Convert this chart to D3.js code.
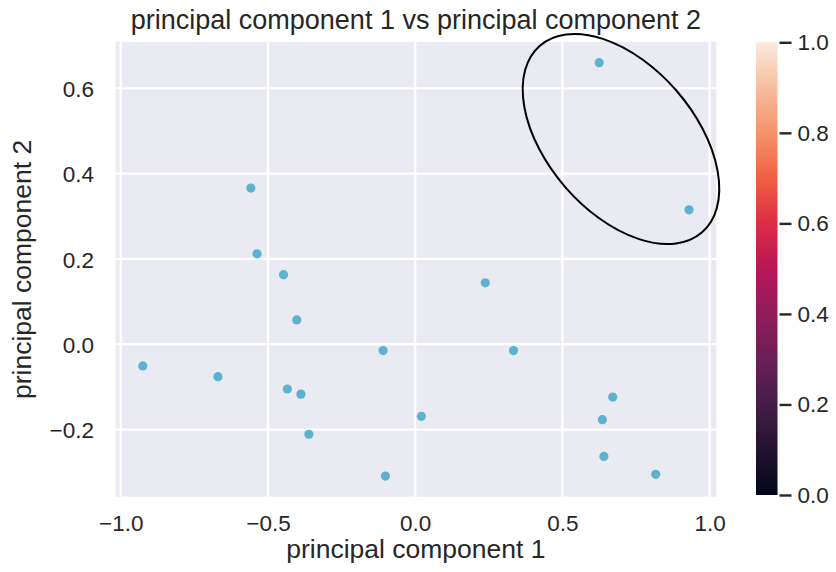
<!DOCTYPE html>
<html>
<head>
<meta charset="utf-8">
<script src="https://cdn.jsdelivr.net/npm/d3@7"></script>
<style>
  html, body { margin: 0; padding: 0; background: #ffffff; }
  svg { display: block; font-family: "Liberation Sans", Arial, sans-serif; }
</style>
</head>
<body>
<svg id="chart" width="836" height="572"></svg>
<script>
// ---- data ----
const pc1 = [0.625, 0.930, -0.558, -0.537, -0.447, -0.402, 0.238, -0.109, 0.334, -0.925,
             -0.670, -0.434, -0.388, -0.361, 0.021, -0.101, 0.671, 0.636, 0.641, 0.817];
const pc2 = [0.660, 0.315, 0.366, 0.212, 0.163, 0.057, 0.144, -0.015, -0.015, -0.051,
             -0.076, -0.105, -0.117, -0.211, -0.169, -0.309, -0.124, -0.177, -0.263, -0.305];
const xTicks = [-1.0, -0.5, 0.0, 0.5, 1.0];
const yTicks = [-0.2, 0.0, 0.2, 0.4, 0.6];
const cbTicks = [0.0, 0.2, 0.4, 0.6, 0.8, 1.0];
// "rocket" colormap stops
const rocketStops = ["#03051a", "#221331", "#451c47", "#6a1f56", "#921c5b", "#b91657",
                     "#dd2c45", "#f06043", "#f5936a", "#f6bd9e", "#faebdd"];
const titleText = "principal component 1 vs principal component 2";
const xLabel = "principal component 1";
const yLabel = "principal component 2";
// annotation ellipse (centre in data units)
const ellipseCenter = [0.699, 0.481];

// ---- layout ----
const svg = d3.select("#chart");
const plot = { left: 115.5, right: 716.3, top: 42, bottom: 496.7 };
const textColor = "#262626";
const tickFont = 22.5, labelFont = 26.5, titleFont = 27;

const pad = 0.05;
const xExt = d3.extent(pc1), yExt = d3.extent(pc2);
const xs = d3.scaleLinear()
  .domain([xExt[0] - pad * (xExt[1] - xExt[0]), xExt[1] + pad * (xExt[1] - xExt[0])])
  .range([plot.left, plot.right]);
const ys = d3.scaleLinear()
  .domain([yExt[0] - pad * (yExt[1] - yExt[0]), yExt[1] + pad * (yExt[1] - yExt[0])])
  .range([plot.bottom, plot.top]);

// background
svg.append("rect")
  .attr("x", plot.left).attr("y", plot.top)
  .attr("width", plot.right - plot.left).attr("height", plot.bottom - plot.top)
  .attr("fill", "#eaeaf2");

// grid
const grid = svg.append("g");
grid.selectAll("line.vx").data(xTicks).join("line")
  .attr("x1", d => xs(d)).attr("x2", d => xs(d))
  .attr("y1", plot.top).attr("y2", plot.bottom)
  .attr("stroke", "#ffffff").attr("stroke-width", 2.2);
grid.selectAll("line.hy").data(yTicks).join("line")
  .attr("y1", d => ys(d)).attr("y2", d => ys(d))
  .attr("x1", plot.left).attr("x2", plot.right)
  .attr("stroke", "#ffffff").attr("stroke-width", 2.2);

// axes (no tick marks, seaborn darkgrid style)
const fmt = d3.format(".1f");
const xAxis = svg.append("g")
  .attr("transform", `translate(0,${plot.bottom})`)
  .call(d3.axisBottom(xs).tickValues(xTicks).tickFormat(fmt).tickSize(0).tickPadding(0));
xAxis.select(".domain").remove();
xAxis.selectAll("text")
  .attr("y", 34).attr("dy", 0)
  .attr("fill", textColor).style("font-size", tickFont + "px")
  .style("font-family", "'Liberation Sans', Arial, sans-serif");

const yAxis = svg.append("g")
  .attr("transform", `translate(${plot.left},0)`)
  .call(d3.axisLeft(ys).tickValues(yTicks).tickFormat(fmt).tickSize(0).tickPadding(0));
yAxis.select(".domain").remove();
yAxis.selectAll("text")
  .attr("x", -21.5).attr("dy", "0.36em")
  .attr("fill", textColor).style("font-size", tickFont + "px")
  .style("font-family", "'Liberation Sans', Arial, sans-serif");

// points
svg.append("g").selectAll("circle")
  .data(pc1.map((v, i) => [v, pc2[i]]))
  .join("circle")
  .attr("cx", d => xs(d[0])).attr("cy", d => ys(d[1]))
  .attr("r", 4.6)
  .attr("fill", "#5cb2cf");

// annotation ellipse
svg.append("ellipse")
  .attr("transform", `translate(${xs(ellipseCenter[0])},${ys(ellipseCenter[1])}) rotate(49)`)
  .attr("rx", 123.6).attr("ry", 73.6)
  .attr("fill", "none").attr("stroke", "#000000").attr("stroke-width", 2);

// title and labels
svg.append("text")
  .attr("x", (plot.left + plot.right) / 2).attr("y", 28.5)
  .attr("text-anchor", "middle").attr("fill", textColor)
  .style("font-size", titleFont + "px").text(titleText);
svg.append("text")
  .attr("x", (plot.left + plot.right) / 2).attr("y", 558)
  .attr("text-anchor", "middle").attr("fill", textColor)
  .style("font-size", labelFont + "px").text(xLabel);
svg.append("text")
  .attr("transform", `translate(31,${(plot.top + plot.bottom) / 2}) rotate(-90)`)
  .attr("text-anchor", "middle").attr("fill", textColor)
  .style("font-size", labelFont + "px").text(yLabel);

// colorbar
const cb = { x: 756, w: 21.5, top: 42.3, bottom: 495 };
const defs = svg.append("defs");
const grad = defs.append("linearGradient").attr("id", "rocket")
  .attr("x1", 0).attr("y1", 1).attr("x2", 0).attr("y2", 0);
grad.selectAll("stop").data(rocketStops).join("stop")
  .attr("offset", (d, i) => i / (rocketStops.length - 1))
  .attr("stop-color", d => d);
svg.append("rect")
  .attr("x", cb.x).attr("y", cb.top).attr("width", cb.w).attr("height", cb.bottom - cb.top)
  .attr("fill", "url(#rocket)");
const cs = d3.scaleLinear().domain([0, 1]).range([cb.bottom, cb.top]);
const cAxis = svg.append("g")
  .attr("transform", `translate(${cb.x + cb.w + 2},0)`)
  .call(d3.axisRight(cs).tickValues(cbTicks).tickFormat(fmt).tickSize(12).tickPadding(6));
cAxis.select(".domain").remove();
cAxis.selectAll(".tick line").attr("stroke", textColor).attr("stroke-width", 2.4);
cAxis.selectAll("text")
  .attr("fill", textColor).style("font-size", tickFont + "px")
  .style("font-family", "'Liberation Sans', Arial, sans-serif");
</script>
</body>
</html>
